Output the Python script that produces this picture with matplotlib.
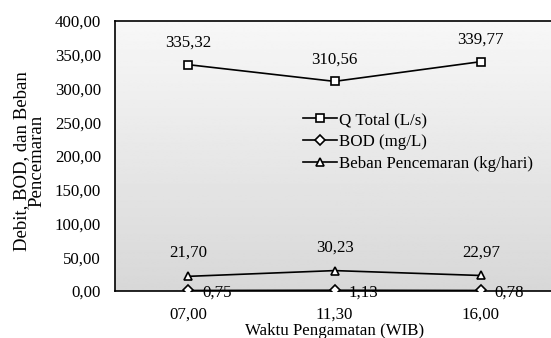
import matplotlib
matplotlib.use("Agg")
import matplotlib.pyplot as plt
import numpy as np

plt.rcParams["font.family"] = ["Liberation Serif", "DejaVu Serif"]

waktu = ["07,00", "11,30", "16,00"]
q_total = [335.32, 310.56, 339.77]
bod = [0.75, 1.13, 0.78]
beban = [21.70, 30.23, 22.97]
y_ticks = [0, 50, 100, 150, 200, 250, 300, 350, 400]

FS = 12.2


def fmt(v):
    return f"{v:.2f}".replace(".", ",")


def main():
    fig = plt.figure(figsize=(5.51, 3.38), dpi=100)
    ax = fig.add_axes([115 / 551, 1 - 291 / 338, 439 / 551, 270 / 338])

    # gradient background, light at top and grey at bottom
    grad = np.linspace(0.845, 0.97, 256).reshape(-1, 1)
    ax.imshow(grad, extent=[0, 1, 0, 1], transform=ax.transAxes, cmap="gray",
              vmin=0, vmax=1, aspect="auto", origin="lower", zorder=0)

    x = np.arange(len(waktu))
    common = dict(color="black", lw=1.2, markerfacecolor="white",
                  markeredgecolor="black", markeredgewidth=1.2, zorder=3)
    ax.plot(x, q_total, marker="s", ms=6, label="Q Total (L/s)", **common)
    ax.plot(x, bod, marker="D", ms=4.8, label="BOD (mg/L)", **common)
    ax.plot(x, beban, marker="^", ms=6, label="Beban Pencemaran (kg/hari)", **common)

    for xi, v in zip(x, q_total):
        ax.annotate(fmt(v), (xi, v), xytext=(0, 10), textcoords="offset points",
                    ha="center", va="bottom", fontsize=FS)
    for xi, v in zip(x, beban):
        ax.annotate(fmt(v), (xi, v), xytext=(0, 11), textcoords="offset points",
                    ha="center", va="bottom", fontsize=FS)
    for xi, v in zip(x, bod):
        ax.annotate(fmt(v), (xi, v), xytext=(10, -1.5), textcoords="offset points",
                    ha="left", va="center", fontsize=FS)

    ax.set_xlim(-0.5, 2.5)
    ax.set_ylim(0, 400)
    ax.set_xticks(x)
    ax.set_xticklabels(waktu, fontsize=FS)
    ax.set_yticks(y_ticks)
    ax.set_yticklabels([fmt(v) for v in y_ticks], fontsize=FS)
    ax.tick_params(axis="x", length=0, pad=11)
    ax.tick_params(axis="y", length=0, pad=10)

    for side in ["left", "top", "bottom"]:
        ax.spines[side].set_color("black")
        ax.spines[side].set_linewidth(1.2)
    ax.spines["right"].set_visible(False)

    ax.set_xlabel("Waktu Pengamatan (WIB)", fontsize=FS, labelpad=0.5)
    fig.text(29 / 551, 1 - 161 / 338, "Debit, BOD, dan Beban\nPencemaran",
             rotation=90, ha="center", va="center", fontsize=13.5,
             multialignment="center", linespacing=0.85)

    ax.legend(loc="upper left", bbox_to_anchor=(303 / 551, 1 - 112 / 338),
              bbox_transform=fig.transFigure, frameon=False, fontsize=FS,
              handlelength=2.0, handletextpad=0.1, labelspacing=0.35,
              borderpad=0, borderaxespad=0)

    fig.savefig("out.png", dpi=100)


if __name__ == "__main__":
    main()
